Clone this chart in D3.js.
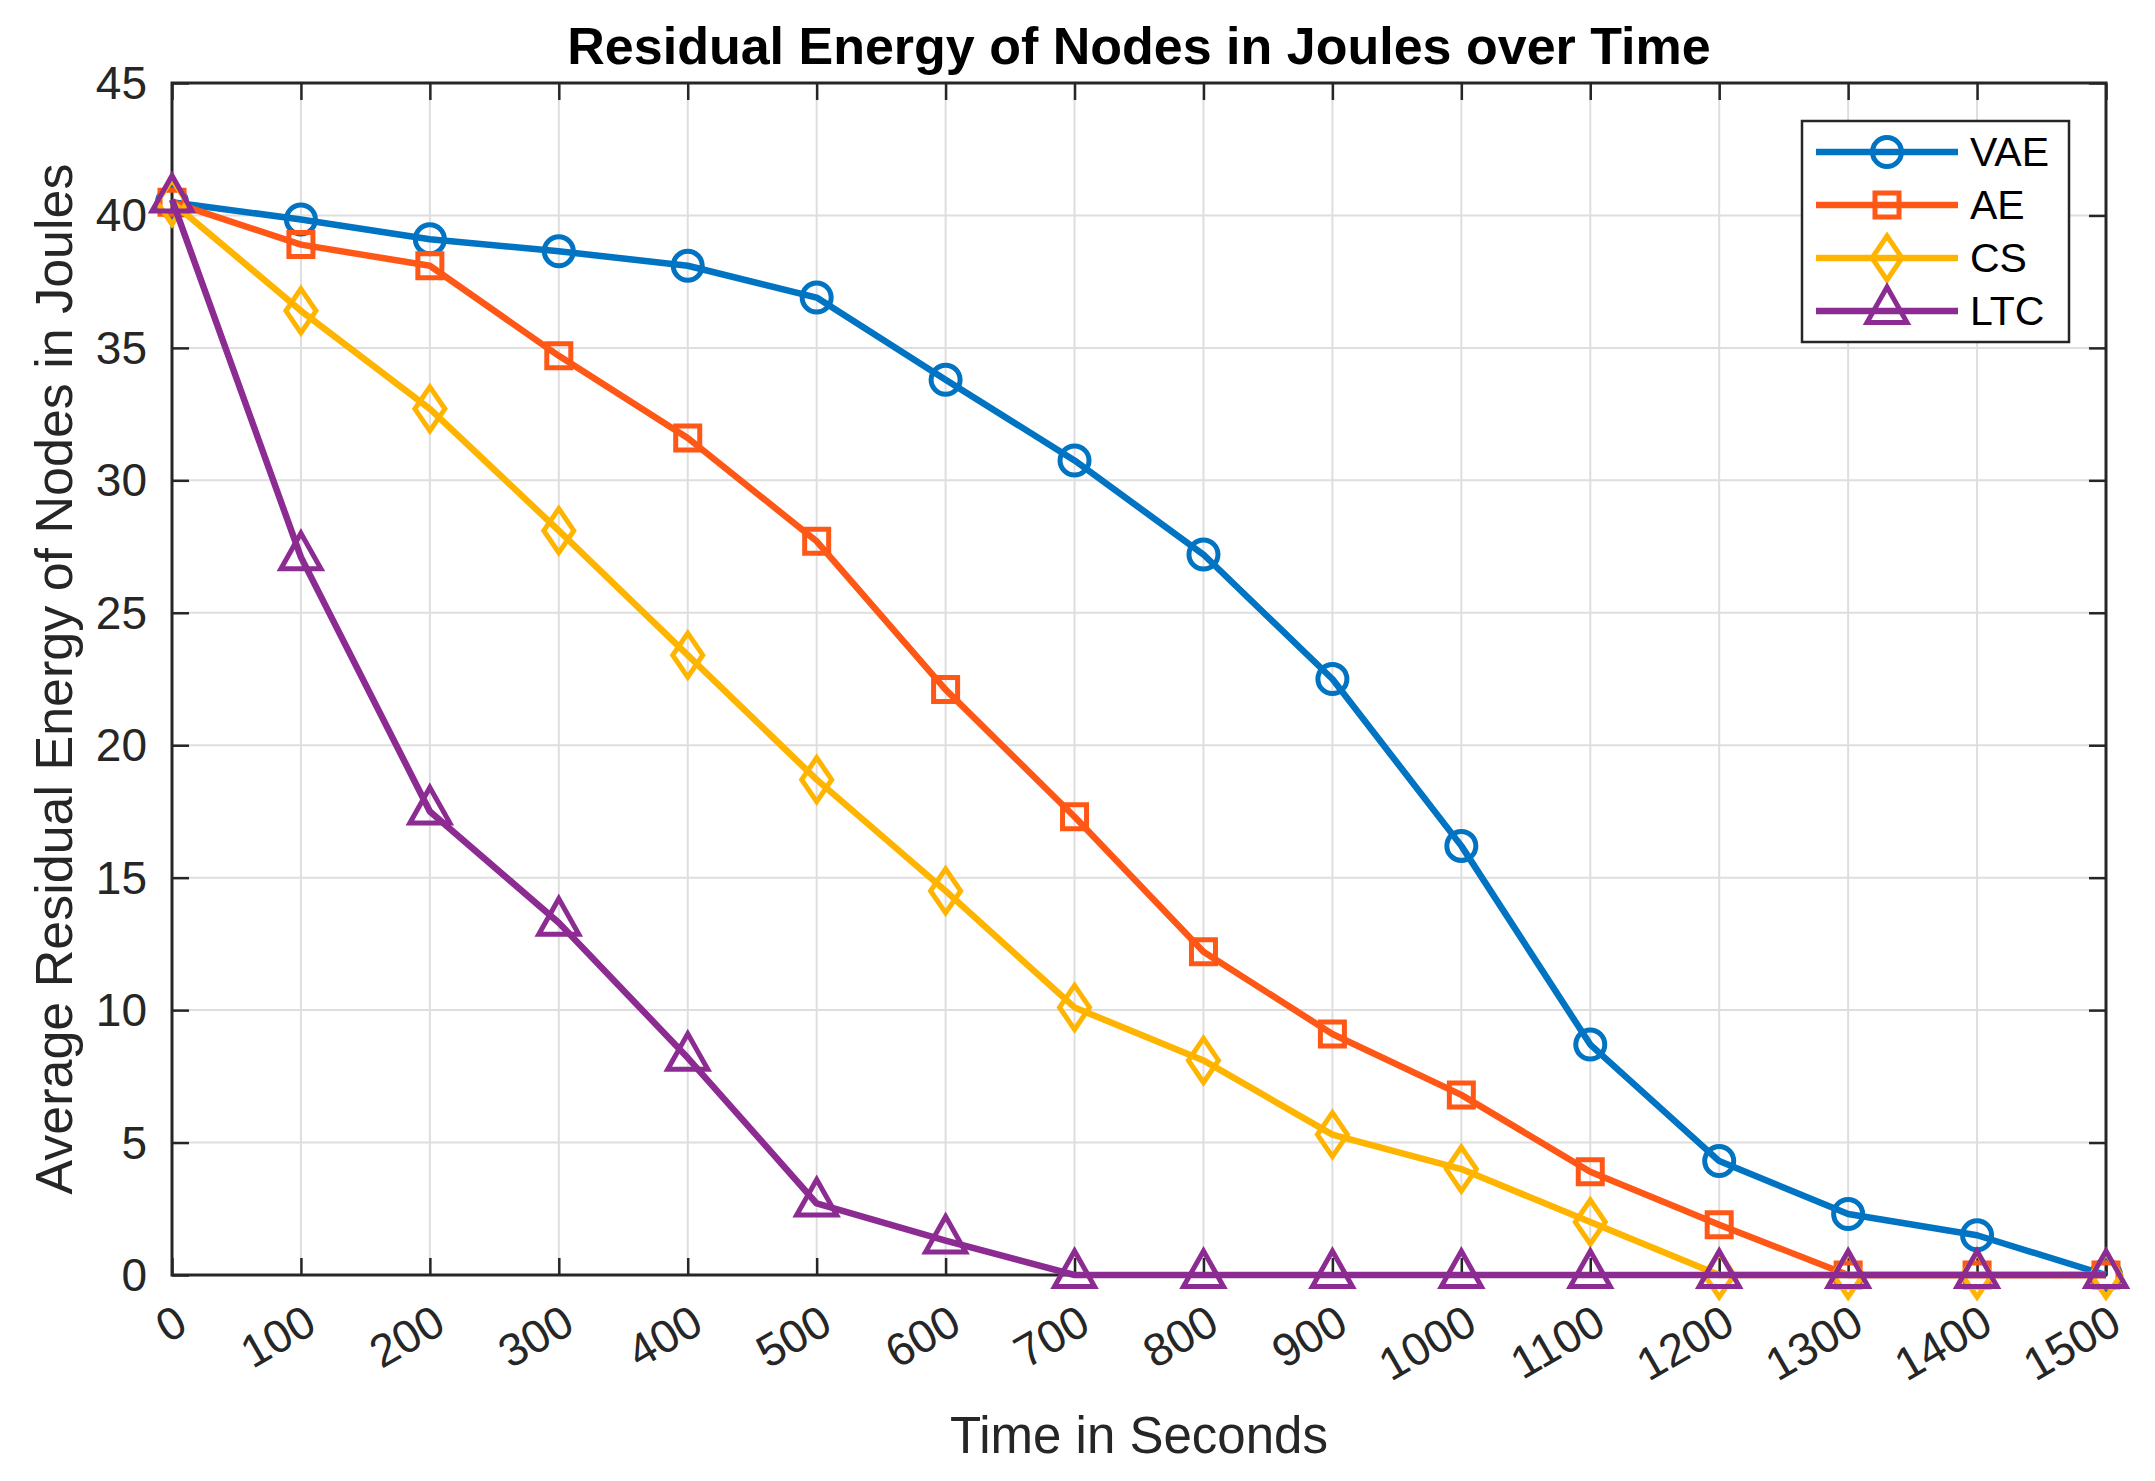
<!DOCTYPE html>
<html>
<head>
<meta charset="utf-8">
<script src="https://cdn.jsdelivr.net/npm/d3@7"></script>
<style>
  body { margin: 0; background: #fff; }
  text { font-family: "Liberation Sans", Arial, Helvetica, sans-serif; fill: #262626; }
</style>
</head>
<body>
<div id="chart"></div>
<script>
// data
const times = [0, 100, 200, 300, 400, 500, 600, 700, 800, 900, 1000, 1100, 1200, 1300, 1400, 1500];
const vae = [40.5, 39.85, 39.1, 38.65, 38.1, 36.9, 33.8, 30.75, 27.2, 22.5, 16.2, 8.7, 4.3, 2.3, 1.5, 0];
const ae  = [40.5, 38.9, 38.1, 34.7, 31.6, 27.7, 22.1, 17.3, 12.2, 9.1, 6.8, 3.9, 1.9, 0, 0, 0];
const cs  = [40.5, 36.4, 32.7, 28.1, 23.4, 18.7, 14.5, 10.1, 8.1, 5.3, 4.0, 2.0, 0, 0, 0, 0];
const ltc = [40.6, 27.1, 17.5, 13.3, 8.2, 2.7, 1.3, 0, 0, 0, 0, 0, 0, 0, 0, 0];
const seriesNames = ["VAE", "AE", "CS", "LTC"];
const xTicks = d3.range(0, 1501, 100);
const yTicks = d3.range(0, 46, 5);

const width = 2155, height = 1481;
const plotLeft = 172, plotRight = 2106, plotTop = 83, plotBottom = 1275;

const colors = ["#0074c2", "#fe5716", "#ffb400", "#8c2b92"];
const shapes = ["circle", "square", "diamond", "triangle"];

const svg = d3.select("#chart").append("svg")
    .attr("width", width)
    .attr("height", height);

svg.append("rect").attr("width", width).attr("height", height).attr("fill", "#fff");

const x = d3.scaleLinear().domain([0, 1500]).range([plotLeft, plotRight]);
const y = d3.scaleLinear().domain([0, 45]).range([plotBottom, plotTop]);

// grid
svg.append("g").selectAll("line").data(xTicks.slice(1, -1)).join("line")
    .attr("x1", d => x(d)).attr("x2", d => x(d))
    .attr("y1", plotTop).attr("y2", plotBottom)
    .attr("stroke", "#dedede").attr("stroke-width", 2);
svg.append("g").selectAll("line").data(yTicks.slice(1, -1)).join("line")
    .attr("y1", d => y(d)).attr("y2", d => y(d))
    .attr("x1", plotLeft).attr("x2", plotRight)
    .attr("stroke", "#dedede").attr("stroke-width", 2);

// axes: ticks inward on all four sides
const tickLen = 17;
const axisBottom = d3.axisBottom(x).tickValues(xTicks).tickSize(-tickLen).tickFormat("");
const axisTop = d3.axisTop(x).tickValues(xTicks).tickSize(-tickLen).tickFormat("");
const axisLeft = d3.axisLeft(y).tickValues(yTicks).tickSize(-tickLen).tickFormat("");
const axisRight = d3.axisRight(y).tickValues(yTicks).tickSize(-tickLen).tickFormat("");

function styleAxis(g) {
  g.select(".domain").remove();
  g.selectAll(".tick line").attr("stroke", "#262626").attr("stroke-width", 2.5);
}
svg.append("g").attr("transform", `translate(0,${plotBottom})`).call(axisBottom).call(styleAxis);
svg.append("g").attr("transform", `translate(0,${plotTop})`).call(axisTop).call(styleAxis);
svg.append("g").attr("transform", `translate(${plotLeft},0)`).call(axisLeft).call(styleAxis);
svg.append("g").attr("transform", `translate(${plotRight},0)`).call(axisRight).call(styleAxis);

svg.append("rect")
    .attr("x", plotLeft).attr("y", plotTop)
    .attr("width", plotRight - plotLeft).attr("height", plotBottom - plotTop)
    .attr("fill", "none").attr("stroke", "#262626").attr("stroke-width", 3);

// tick labels
svg.append("g").selectAll("text").data(yTicks).join("text")
    .attr("x", plotLeft - 25).attr("y", d => y(d))
    .attr("text-anchor", "end").attr("dominant-baseline", "central")
    .attr("font-size", 46)
    .text(d => d);

svg.append("g").selectAll("text").data(xTicks).join("text")
    .attr("transform", d => `translate(${x(d) + 10},${plotBottom + 42}) rotate(-30)`)
    .attr("text-anchor", "end").attr("dominant-baseline", "central")
    .attr("font-size", 46)
    .text(d => d);

// titles
svg.append("text")
    .attr("x", (plotLeft + plotRight) / 2).attr("y", 64)
    .attr("text-anchor", "middle")
    .attr("font-size", 52).attr("font-weight", "bold")
    .style("fill", "#000")
    .text("Residual Energy of Nodes in Joules over Time");

svg.append("text")
    .attr("x", (plotLeft + plotRight) / 2).attr("y", 1453)
    .attr("text-anchor", "middle")
    .attr("font-size", 51)
    .text("Time in Seconds");

svg.append("text")
    .attr("transform", `translate(72,${(plotTop + plotBottom) / 2}) rotate(-90)`)
    .attr("text-anchor", "middle")
    .attr("font-size", 52)
    .text("Average Residual Energy of Nodes in Joules");

// markers
function markerPath(shape) {
  if (shape === "square") return "M-12,-12H12V12H-12Z";
  if (shape === "diamond") return "M0,-22L15,0L0,22L-15,0Z";
  return "M0,-24L20,11.5L-20,11.5Z";
}
function drawMarker(g, shape, color) {
  if (shape === "circle") {
    g.append("circle").attr("r", 14.5).attr("fill", "none")
        .attr("stroke", color).attr("stroke-width", 5);
  } else {
    g.append("path").attr("d", markerPath(shape)).attr("fill", "none")
        .attr("stroke", color).attr("stroke-width", 5).attr("stroke-linejoin", "miter");
  }
}

const allSeries = [vae, ae, cs, ltc];
const line = d3.line().x((d, i) => x(times[i])).y(d => y(d));

allSeries.forEach((vals, k) => {
  const g = svg.append("g");
  g.append("path").datum(vals)
      .attr("d", line)
      .attr("fill", "none")
      .attr("stroke", colors[k]).attr("stroke-width", 6.5)
      .attr("stroke-linejoin", "round");
  vals.forEach((v, i) => {
    const m = g.append("g").attr("transform", `translate(${x(times[i])},${y(v)})`);
    drawMarker(m, shapes[k], colors[k]);
  });
});

// legend
const legend = svg.append("g");
legend.append("rect")
    .attr("x", 1802).attr("y", 121).attr("width", 267).attr("height", 221)
    .attr("fill", "#fff").attr("stroke", "#262626").attr("stroke-width", 2.5);
seriesNames.forEach((name, k) => {
  const ly = 152 + k * 53;
  legend.append("line")
      .attr("x1", 1816).attr("x2", 1958).attr("y1", ly).attr("y2", ly)
      .attr("stroke", colors[k]).attr("stroke-width", 6.5);
  const m = legend.append("g").attr("transform", `translate(1887,${ly})`);
  drawMarker(m, shapes[k], colors[k]);
  legend.append("text")
      .attr("x", 1970).attr("y", ly)
      .attr("dominant-baseline", "central")
      .attr("font-size", 41)
      .style("fill", "#000")
      .text(name);
});
</script>
</body>
</html>
